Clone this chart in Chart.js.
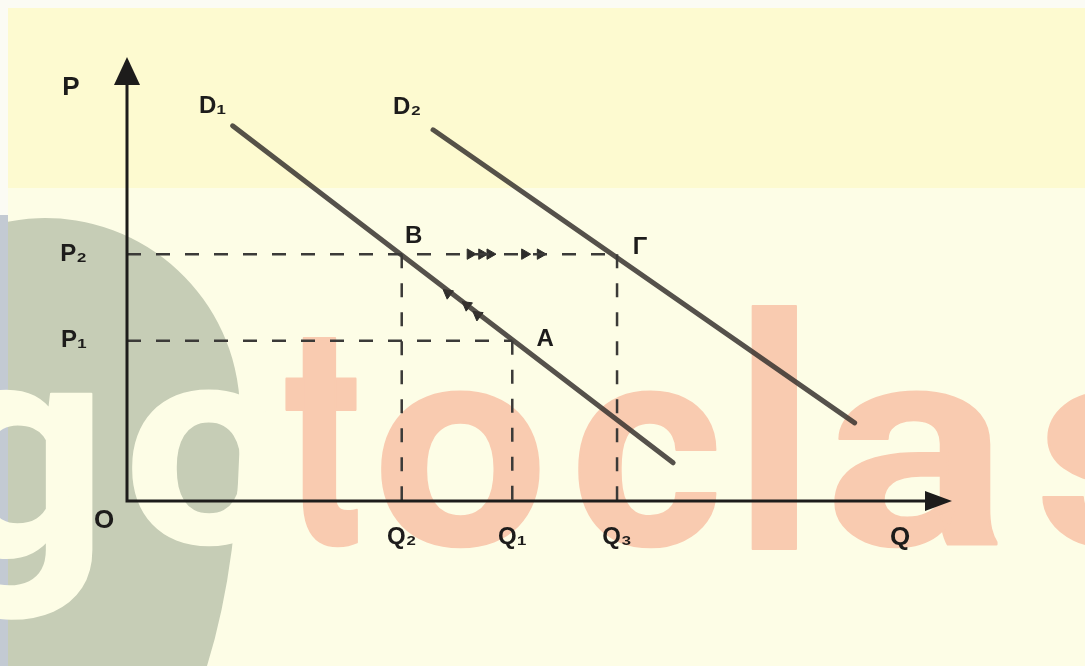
<!DOCTYPE html>
<html>
<head>
<meta charset="utf-8">
<script src="https://cdn.jsdelivr.net/npm/chart.js@4.4.1/dist/chart.umd.min.js"></script>
<style>
  html, body { margin: 0; padding: 0; background: #fdfde7; }
  canvas { display: block; }
</style>
</head>
<body>
<canvas id="demandChart" width="1085" height="666"></canvas>
<script>
// axis ticks (quantity / price levels)
const qLabels = ['Q₂', 'Q₁', 'Q₃'];
const qValues = [3.33, 4.67, 5.94];
const pLabels = ['P₁', 'P₂'];
const pValues = [3.61, 5.56];

// demand curves, start and end points
const d1X = [1.28, 6.62];
const d1Y = [8.45, 0.86];
const d2X = [3.71, 8.82];
const d2Y = [8.36, 1.76];

// equilibrium points
const pointNames = ['B', 'A', 'Γ'];
const pointX = [3.33, 4.67, 5.94];
const pointY = [5.56, 3.61, 5.56];

// little arrows: shift B -> Γ along P2, and movement A -> B along D1
const shiftArrowX = [4.16, 4.30, 4.40, 4.82, 5.01];
const moveArrowX = [3.89, 4.12, 4.25];
const moveArrowY = [4.68, 4.41, 4.19];

const FONT = '"Liberation Sans", Arial, sans-serif';
const INK = '#1d1c1b';

function seg(x1, y1, x2, y2) {
  return [{ x: x1, y: y1 }, { x: x2, y: y2 }];
}

var guideStyle = {
  type: 'scatter', showLine: true, pointRadius: 0,
  borderColor: '#3b3a38', borderWidth: 2.5, borderDash: [14, 15]
};
var guides = [
  seg(0, pointY[0], pointX[2], pointY[2]),   // P2 line through B to Γ
  seg(0, pointY[1], pointX[1], pointY[1]),   // P1 line to A
  seg(pointX[0], pointY[0], pointX[0], 0),
  seg(pointX[1], pointY[1], pointX[1], 0),
  seg(pointX[2], pointY[2], pointX[2], 0)
].map(function (d) { return Object.assign({ data: d }, guideStyle); });

var curveStyle = {
  type: 'scatter', showLine: true, pointRadius: 0,
  borderColor: 'rgba(55,51,47,0.85)', borderWidth: 5, borderCapStyle: 'round'
};

var arrowStyle = {
  type: 'scatter', pointStyle: 'triangle', pointRadius: 6,
  backgroundColor: '#2e2d2b', borderColor: '#2e2d2b', borderWidth: 1
};

var datasets = guides.concat([
  Object.assign({ label: 'D₁', data: d1X.map((x, i) => ({ x: x, y: d1Y[i] })) }, curveStyle),
  Object.assign({ label: 'D₂', data: d2X.map((x, i) => ({ x: x, y: d2Y[i] })) }, curveStyle),
  Object.assign({
    label: 'shift', pointRotation: 90,
    data: shiftArrowX.map(x => ({ x: x, y: pointY[0] }))
  }, arrowStyle),
  Object.assign({
    label: 'move', pointRotation: -53,
    data: moveArrowX.map((x, i) => ({ x: x, y: moveArrowY[i] }))
  }, arrowStyle)
]);

// background + the faded "gotoclass" watermark
function fitGlyph(ctx, ch, box, color, thick) {
  ctx.save();
  ctx.font = 'bold 300px Roboto, sans-serif';
  var m = ctx.measureText(ch);
  var gw = m.actualBoundingBoxLeft + m.actualBoundingBoxRight;
  var gh = m.actualBoundingBoxAscent + m.actualBoundingBoxDescent;
  var sx = (box[1] - box[0] - thick) / gw;
  var sy = (box[3] - box[2] - thick) / gh;
  ctx.translate(box[0] + thick / 2, box[2] + thick / 2);
  ctx.scale(sx, sy);
  ctx.fillStyle = color;
  ctx.strokeStyle = color;
  ctx.lineJoin = 'round';
  ctx.lineWidth = thick / ((sx + sy) / 2);
  ctx.textAlign = 'left';
  ctx.textBaseline = 'alphabetic';
  ctx.fillText(ch, m.actualBoundingBoxLeft, m.actualBoundingBoxAscent);
  ctx.strokeText(ch, m.actualBoundingBoxLeft, m.actualBoundingBoxAscent);
  ctx.restore();
}

const backdrop = {
  id: 'backdrop',
  beforeDraw(chart) {
    var ctx = chart.ctx, W = chart.width, H = chart.height;
    ctx.save();
    ctx.fillStyle = '#fbfbf4';
    ctx.fillRect(0, 0, W, H);
    ctx.fillStyle = '#fdfde6';
    ctx.fillRect(8, 8, W - 8, H - 8);
    ctx.fillStyle = '#fdfad0';
    ctx.fillRect(8, 8, W - 8, 180);

    // grey disc of the logo
    ctx.fillStyle = '#c6cdb6';
    ctx.beginPath();
    ctx.moveTo(0, H);
    ctx.lineTo(0, 223);
    ctx.arc(45, 413, 195, Math.PI + 1.338, Math.PI * 2);
    ctx.quadraticCurveTo(240, 560, 207, H);
    ctx.closePath();
    ctx.fill();
    ctx.fillStyle = '#c3cad3';
    ctx.fillRect(0, 215, 8, H - 215);

    var word = 'gotoclas'.split('');
    var boxes = [
      [-63, 97, 387, 623], [132, 290, 387, 548],
      [284, 360, 333, 549], [381, 544, 388, 550], [578, 718, 388, 550],
      [747, 797, 305, 550], [834, 1002, 388, 550], [1039, 1180, 388, 550]
    ];
    word.forEach(function (ch, i) {
      fitGlyph(ctx, ch, boxes[i], i < 2 ? '#fdfde6' : '#f9cbb0', 2);
    });
    ctx.restore();
  }
};

function label(ctx, text, x, y, size) {
  ctx.font = 'bold ' + (size || 24) + 'px ' + FONT;
  ctx.fillText(text, x, y);
}

const axesAndLabels = {
  id: 'axesAndLabels',
  afterDatasetsDraw(chart) {
    var ctx = chart.ctx;
    var xs = chart.scales.x, ys = chart.scales.y;
    var x0 = xs.getPixelForValue(0), y0 = ys.getPixelForValue(0);
    var xEnd = xs.getPixelForValue(xs.max), yEnd = ys.getPixelForValue(ys.max);
    ctx.save();
    ctx.strokeStyle = INK;
    ctx.fillStyle = INK;
    ctx.lineWidth = 3;
    ctx.beginPath();
    ctx.moveTo(x0, yEnd + 20);
    ctx.lineTo(x0, y0);
    ctx.lineTo(xEnd - 20, y0);
    ctx.stroke();
    // arrow heads
    ctx.beginPath();
    ctx.moveTo(x0, yEnd);
    ctx.lineTo(x0 - 13, yEnd + 28);
    ctx.lineTo(x0 + 13, yEnd + 28);
    ctx.closePath();
    ctx.fill();
    ctx.beginPath();
    ctx.moveTo(xEnd, y0);
    ctx.lineTo(xEnd - 27, y0 - 10);
    ctx.lineTo(xEnd - 27, y0 + 10);
    ctx.closePath();
    ctx.fill();

    ctx.textAlign = 'center';
    ctx.textBaseline = 'middle';
    label(ctx, 'P', x0 - 56, yEnd + 31, 26);
    label(ctx, 'O', x0 - 23, y0 + 20, 26);
    label(ctx, 'Q', xEnd - 52, y0 + 37, 26);

    var offs = [[12, -18], [33, -1], [23, -7]];
    pointNames.forEach(function (n, i) {
      label(ctx, n, xs.getPixelForValue(pointX[i]) + offs[i][0],
        ys.getPixelForValue(pointY[i]) + offs[i][1]);
    });
    label(ctx, 'D₁', xs.getPixelForValue(d1X[0]) - 20, ys.getPixelForValue(d1Y[0]) - 19);
    label(ctx, 'D₂', xs.getPixelForValue(d2X[0]) - 26, ys.getPixelForValue(d2Y[0]) - 22);
    ctx.restore();
  }
};

var tickFont = { family: FONT, size: 24, weight: 'bold' };

new Chart(document.getElementById('demandChart').getContext('2d'), {
  type: 'scatter',
  data: { datasets: datasets },
  options: {
    responsive: false,
    animation: false,
    layout: { padding: { top: 57, right: 133, left: 0, bottom: 0 } },
    plugins: { legend: { display: false }, tooltip: { enabled: false } },
    scales: {
      x: {
        type: 'linear', min: 0, max: 10,
        grid: { display: false, drawTicks: false },
        border: { display: false },
        afterFit: function (s) { s.height = 165; },
        afterBuildTicks: function (s) { s.ticks = qValues.map(v => ({ value: v })); },
        ticks: {
          autoSkip: false, maxRotation: 0, padding: 22, color: INK, font: tickFont,
          callback: function (v, i) { return qLabels[i]; }
        }
      },
      y: {
        type: 'linear', min: 0, max: 10,
        grid: { display: false, drawTicks: false },
        border: { display: false },
        afterFit: function (s) { s.width = 127; },
        afterBuildTicks: function (s) { s.ticks = pValues.map(v => ({ value: v })); },
        ticks: {
          autoSkip: false, padding: 40, color: INK, font: tickFont,
          callback: function (v, i) { return pLabels[i]; }
        }
      }
    }
  },
  plugins: [backdrop, axesAndLabels]
});
</script>
</body>
</html>
